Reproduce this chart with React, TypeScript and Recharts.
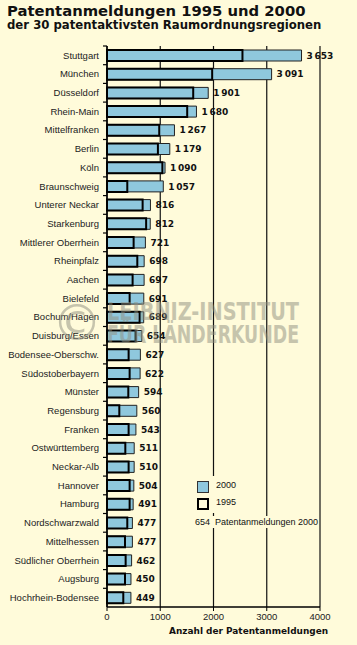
import React from 'react';
import { BarChart, Bar, XAxis, YAxis, CartesianGrid, LabelList } from 'recharts';

const regions = [
  'Stuttgart', 'München', 'Düsseldorf', 'Rhein-Main', 'Mittelfranken', 'Berlin', 'Köln',
  'Braunschweig', 'Unterer Neckar', 'Starkenburg', 'Mittlerer Oberrhein', 'Rheinpfalz', 'Aachen',
  'Bielefeld', 'Bochum/Hagen', 'Duisburg/Essen', 'Bodensee-Oberschw.', 'Südostoberbayern',
  'Münster', 'Regensburg', 'Franken', 'Ostwürttemberg', 'Neckar-Alb', 'Hannover', 'Hamburg',
  'Nordschwarzwald', 'Mittelhessen', 'Südlicher Oberrhein', 'Augsburg', 'Hochrhein-Bodensee',
];
const patents2000 = [
  3653, 3091, 1901, 1680, 1267, 1179, 1090, 1057, 816, 812, 721, 698, 697, 691, 689,
  654, 627, 622, 594, 560, 543, 511, 510, 504, 491, 477, 477, 462, 450, 449,
];
const patents1995 = [
  2544, 1975, 1619, 1506, 981, 956, 1040, 381, 669, 735, 500, 569, 481, 425, 612,
  538, 406, 425, 400, 231, 406, 344, 406, 425, 425, 381, 338, 350, 338, 306,
];
const xTicks = [0, 1000, 2000, 3000, 4000];

const BG = '#FFFBDA';
const BLUE = '#8FC8DD';
const PLOT_LEFT = 107;
const PLOT_TOP = 46;
const PLOT_BOTTOM = 607;
const ROW_H = (PLOT_BOTTOM - PLOT_TOP) / regions.length;

const data = regions.map((region, i) => ({
  region,
  y2000: patents2000[i],
  y1995: patents1995[i],
}));

// German style thousands gap: 3 653
const fmt = (v: number) => (v >= 1000 ? `${Math.floor(v / 1000)}\u2009${String(v % 1000).padStart(3, '0')}` : `${v}`);

const RegionTick = (props: any) => {
  const { x, y, payload } = props;
  const yb = y - ROW_H / 2;
  return (
    <g>
      <line x1={PLOT_LEFT - 4} x2={PLOT_LEFT} y1={yb} y2={yb} stroke="#000" strokeWidth={1.2} />
      <text x={x} y={y} dy={3.3} textAnchor="end" fontSize={9.5} fill="#222" fontFamily="Liberation Sans, Arial, sans-serif">
        {payload.value}
      </text>
    </g>
  );
};

const txt = { position: 'absolute' as const, whiteSpace: 'nowrap' as const, color: '#111' };

export default function App() {
  return (
    <div style={{ position: 'absolute', left: 0, top: 0, width: 357, height: 645, background: BG, overflow: 'hidden' }}>
      <div style={{ ...txt, left: 7, top: 2, fontFamily: 'DejaVu Sans, Verdana, sans-serif', fontWeight: 'bold', fontSize: 14.8 }}>
        Patentanmeldungen 1995 und 2000
      </div>
      <div style={{ ...txt, left: 7, top: 18, fontFamily: 'DejaVu Sans, Verdana, sans-serif', fontWeight: 'bold', fontSize: 11.7 }}>
        der 30 patentaktivsten Raumordnungsregionen
      </div>

      <div style={{ position: 'absolute', left: 0, top: 0 }}>
        <BarChart
          width={357}
          height={645}
          data={data}
          layout="vertical"
          margin={{ top: PLOT_TOP, right: 37, bottom: 14, left: 0 }}
          barSize={11}
          barGap={-11}
        >
          <CartesianGrid horizontal={false} stroke="#111" strokeWidth={1.2} />
          <XAxis
            type="number"
            domain={[0, 4000]}
            ticks={xTicks}
            height={24}
            tickSize={4}
            tick={{ fontSize: 9.5, fill: '#222', fontFamily: 'Liberation Sans, Arial, sans-serif' }}
            axisLine={{ stroke: '#000', strokeWidth: 1.5 }}
            tickLine={{ stroke: '#000' }}
          />
          <YAxis
            type="category"
            dataKey="region"
            width={PLOT_LEFT}
            interval={0}
            tickLine={false}
            axisLine={{ stroke: '#000', strokeWidth: 1.5 }}
            tick={<RegionTick />}
          />
          <Bar dataKey="y2000" fill={BLUE} stroke="#222" strokeWidth={1} isAnimationActive={false}>
            <LabelList
              dataKey="y2000"
              position="right"
              offset={5}
              formatter={(v: any) => fmt(Number(v))}
              style={{ fontSize: 9, fontWeight: 'bold', fill: '#111', fontFamily: 'DejaVu Sans, Verdana, sans-serif' }}
            />
          </Bar>
          <Bar dataKey="y1995" fill="none" stroke="#000" strokeWidth={2} isAnimationActive={false} />
        </BarChart>
      </div>

      {/* legend */}
      <div style={{ position: 'absolute', left: 193, top: 476, width: 50, height: 37, background: BG }}>
        <div style={{ position: 'absolute', left: 4, top: 5, width: 10, height: 10, background: BLUE, border: '1px solid #333' }} />
        <div style={{ ...txt, left: 23, top: 4, fontSize: 9, fontFamily: 'Liberation Sans, Arial, sans-serif' }}>2000</div>
        <div style={{ position: 'absolute', left: 4, top: 22, width: 8, height: 8, border: '2px solid #000' }} />
        <div style={{ ...txt, left: 23, top: 21, fontSize: 9, fontFamily: 'Liberation Sans, Arial, sans-serif' }}>1995</div>
      </div>
      <div style={{ ...txt, left: 195, top: 516, width: 124, height: 12, background: BG, fontSize: 9, fontFamily: 'Liberation Sans, Arial, sans-serif', lineHeight: '12px' }}>
        654&nbsp;&nbsp;Patentanmeldungen 2000
      </div>

      <div style={{ ...txt, left: 169, top: 626, fontFamily: 'DejaVu Sans, Verdana, sans-serif', fontWeight: 'bold', fontSize: 8.95 }}>
        Anzahl der Patentanmeldungen
      </div>

      {/* watermark */}
      <svg width={357} height={645} style={{ position: 'absolute', left: 0, top: 0, pointerEvents: 'none' }}>
        <g fill="#8f8f80" opacity={0.5} fontFamily="Liberation Sans Narrow, DejaVu Sans Condensed, Arial, sans-serif" fontWeight="bold">
          <text x={77} y={340} fontSize={50} textAnchor="middle" fontWeight="normal" fontFamily="DejaVu Sans, sans-serif">©</text>
          <text x={107} y={320} fontSize={25} textLength={192} lengthAdjust="spacingAndGlyphs">LEIBNIZ-INSTITUT</text>
          <text x={107} y={343} fontSize={25} textLength={192} lengthAdjust="spacingAndGlyphs">FÜR LÄNDERKUNDE</text>
        </g>
      </svg>
    </div>
  );
}
